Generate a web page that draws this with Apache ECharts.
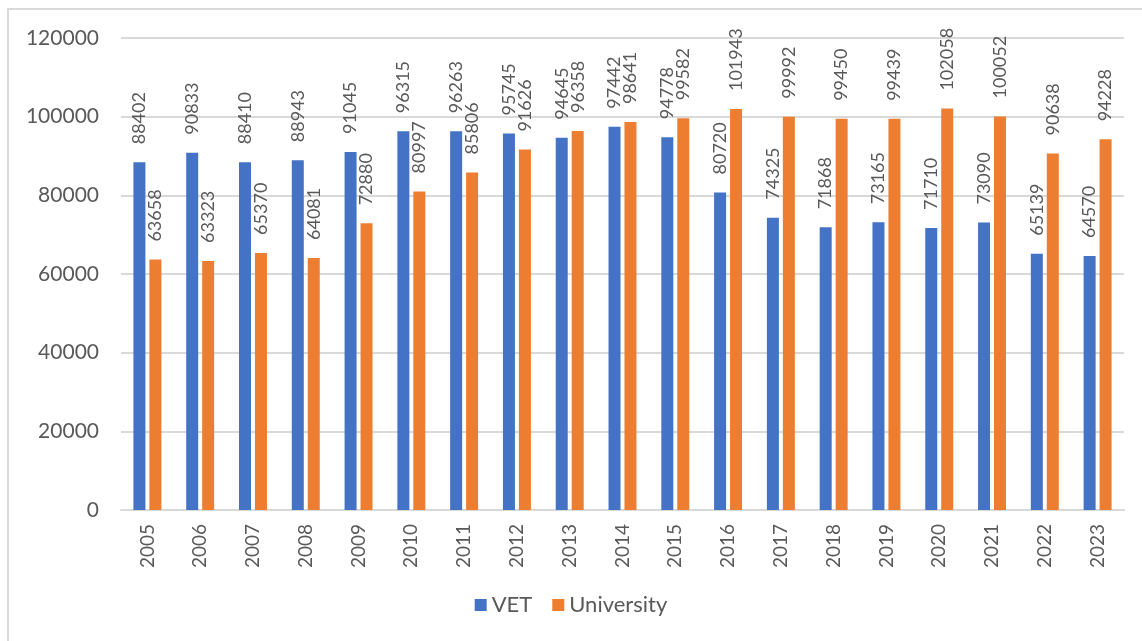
<!DOCTYPE html>
<html>
<head>
<meta charset="utf-8">
<script src="https://cdn.jsdelivr.net/npm/echarts@6/dist/echarts.min.js"></script>
<style>html,body{margin:0;padding:0;background:#fff}#c{width:1142px;height:641px}</style>
</head>
<body>
<div id="c"></div>
<script>
const years = ['2005','2006','2007','2008','2009','2010','2011','2012','2013','2014','2015','2016','2017','2018','2019','2020','2021','2022','2023'];
const vet = [88402,90833,88410,88943,91045,96315,96263,95745,94645,97442,94778,80720,74325,71868,73165,71710,73090,65139,64570];
const university = [63658,63323,65370,64081,72880,80997,85806,91626,96358,98641,99582,101943,99992,99450,99439,102058,100052,90638,94228];
const yTicks = { min: 0, max: 120000, interval: 20000 };

const chart = echarts.init(document.getElementById('c'), null, { renderer: 'canvas' });
const txt = '#595959';
const font = 'Lato, "Liberation Sans", sans-serif';
const lbl = {
  show: true, position: 'top', rotate: 90, align: 'left', verticalAlign: 'middle',
  distance: 18, color: txt, fontSize: 18, fontFamily: font
};
chart.setOption({
  animation: false,
  backgroundColor: '#fff',
  graphic: [{
    type: 'rect', shape: { x: 8, y: 9, width: 1300, height: 800 },
    style: { fill: 'none', stroke: '#d9d9d9', lineWidth: 2 }, silent: true
  }],
  grid: { left: 121, right: 18, top: 38, bottom: 131, containLabel: false },
  legend: {
    data: ['VET', 'University'], bottom: 20, left: 'center',
    icon: 'rect', itemWidth: 12, itemHeight: 12, itemGap: 20,
    textStyle: { color: txt, fontSize: 22, fontFamily: font }
  },
  xAxis: {
    type: 'category', data: years,
    axisLine: { lineStyle: { color: '#d9d9d9', width: 2 } },
    axisTick: { show: false },
    axisLabel: { rotate: 90, color: txt, fontSize: 19, fontFamily: font, margin: 14 }
  },
  yAxis: {
    type: 'value', min: yTicks.min, max: yTicks.max, interval: yTicks.interval,
    axisLine: { show: false }, axisTick: { show: false },
    splitLine: { lineStyle: { color: '#d9d9d9', width: 2 } },
    axisLabel: { color: txt, fontSize: 21, fontFamily: font, margin: 22, formatter: v => String(v) }
  },
  series: [
    { name: 'VET', type: 'bar', data: vet, barWidth: 12, barGap: '33%',
      itemStyle: { color: '#4472C4' }, label: lbl },
    { name: 'University', type: 'bar', data: university, barWidth: 12,
      itemStyle: { color: '#ED7D31' }, label: lbl }
  ]
});
</script>
</body>
</html>
